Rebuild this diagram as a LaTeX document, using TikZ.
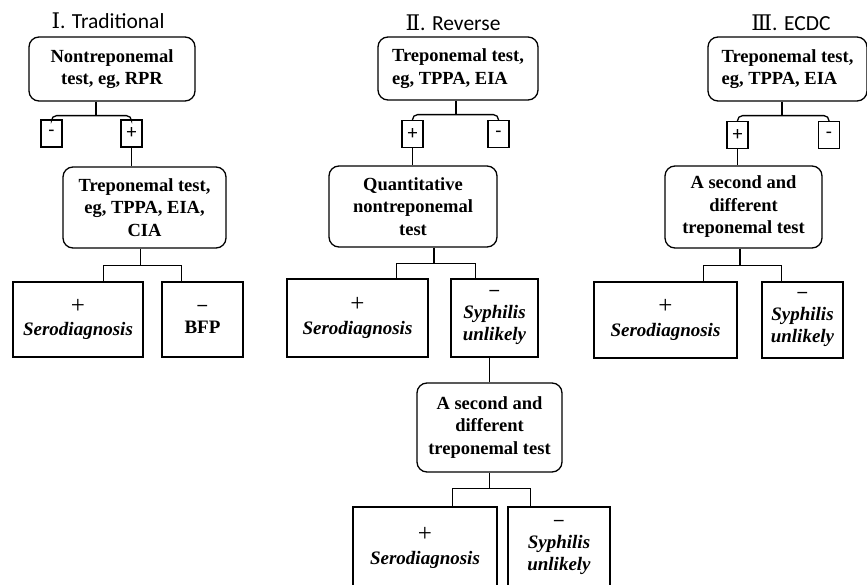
\documentclass[tikz,border=0pt]{standalone}
\usepackage{fontspec}
\setmainfont{Liberation Serif}
\newfontfamily\titlefont{Carlito}
\newfontfamily\romfont{DejaVu Serif}
\newcommand{\bigplus}{{\fontsize{25}{22.5}\selectfont+}}

\begin{document}
\begin{tikzpicture}[x=1pt, y=-1pt, line width=1.3pt,
    title/.style={font=\titlefont\fontsize{21.5}{25}\selectfont},
    test/.style={draw, rounded corners=10pt, align=center, inner sep=0pt, font=\bfseries\fontsize{18.5}{22.5}\selectfont},
    sign/.style={draw, minimum width=21pt, minimum height=27pt, inner sep=0pt, font=\titlefont\fontsize{20}{20}\selectfont},
    result/.style={draw, align=center, inner sep=0pt, font=\fontsize{19}{22.5}\selectfont}
  ]
  \useasboundingbox (0,0) rectangle (867,585);
  \clip (0,0) rectangle (867,585);

  % I. Traditional
  \node[title] (head1) at (108,21) {{\romfont Ⅰ}. Traditional};
  \node[test, minimum width=166pt, minimum height=64pt] (non1) at (112,69) {Nontreponemal\\test, eg, RPR};
  \node[sign] (minus1) at (51.5,133.5) {-};
  \node[sign] (plus1) at (131.5,133.5) {+};
  \node[test, minimum width=163pt, minimum height=81pt] (tre1) at (144.5,207.5) {Treponemal test,\\eg, TPPA, EIA,\\CIA};
  \node[result, minimum width=130pt, minimum height=75pt] (sero1) at (78,319.5) {\bigplus\\\textbf{\textit{Serodiagnosis}}};
  \node[result, minimum width=81pt, minimum height=75pt] (bfp1) at (202.5,319.5) {\textbf{--}\\\textbf{BFP}};

  \draw ([xshift=-16pt]non1.south) -- ++(0,14);
  \draw[rounded corners=5pt] (minus1.north) |- ([xshift=-16pt,yshift=-14pt]non1.south) -| (plus1.north);
  \draw (plus1.south) -- (plus1.south |- tre1.north);
  \draw ([xshift=-4pt]tre1.south) -- ++(0,17);
  \draw ([xshift=-40pt]sero1.north east) |- ([xshift=-4pt,yshift=-17pt]tre1.south) -| ([xshift=20pt]bfp1.north west);

  % II. Reverse
  \node[title] (head2) at (453,23) {{\romfont Ⅱ}. Reverse};
  \node[test, align=left, minimum width=160pt, minimum height=63pt] (top2) at (458,68.5) {Treponemal test,\\eg, TPPA, EIA};
  \node[sign] (plus2) at (412.5,134) {+};
  \node[sign] (minus2) at (498.5,134) {-};
  \node[test, minimum width=168pt, minimum height=81pt] (quan2) at (413,206.5) {Quantitative\\nontreponemal\\test};
  \node[result, minimum width=141pt, minimum height=78pt] (sero2) at (357.5,318) {\bigplus\\\textbf{\textit{Serodiagnosis}}};
  \node[result, minimum width=87pt, minimum height=78pt] (syph2) at (494.5,318) {\textbf{--}\\\textbf{\textit{Syphilis}}\\\textbf{\textit{unlikely}}};
  \node[test, minimum width=145pt, minimum height=89pt] (sec2) at (489.5,427.5) {A second and\\different\\treponemal test};
  \node[result, minimum width=144pt, minimum height=82pt] (sero2b) at (425,548) {\bigplus\\\textbf{\textit{Serodiagnosis}}};
  \node[result, minimum width=102pt, minimum height=82pt] (syph2b) at (559,548) {\textbf{--}\\\textbf{\textit{Syphilis}}\\\textbf{\textit{unlikely}}};

  \draw ([xshift=-2pt]top2.south) -- ++(0,14);
  \draw[rounded corners=5pt] (plus2.north) |- ([xshift=-2pt,yshift=-14pt]top2.south) -| (minus2.north);
  \draw (plus2.south) -- (plus2.south |- quan2.north);
  \draw ([xshift=21pt]quan2.south) -- ++(0,16);
  \draw ([xshift=-32pt]sero2.north east) |- ([xshift=21pt,yshift=-16pt]quan2.south) -| ([xshift=25pt]syph2.north west);
  \draw (sec2.north |- syph2.south) -- (sec2.north);
  \draw (sec2.south) -- ++(0,16);
  \draw ([xshift=-45pt]sero2b.north east) |- ([yshift=-16pt]sec2.south) -| ([xshift=23pt]syph2b.north west);

  % III. ECDC
  \node[title] (head3) at (791,23) {{\romfont Ⅲ}. ECDC};
  \node[test, align=left, minimum width=159pt, minimum height=64pt] (top3) at (787.5,69) {Treponemal test,\\eg, TPPA, EIA};
  \node[sign] (plus3) at (737.5,135) {+};
  \node[sign] (minus3) at (829,135) {-};
  \node[test, minimum width=157pt, minimum height=82pt] (sec3) at (743.5,207) {A second and\\different\\treponemal test};
  \node[result, minimum width=143pt, minimum height=76pt] (sero3) at (665.5,320) {\bigplus\\\textbf{\textit{Serodiagnosis}}};
  \node[result, minimum width=81pt, minimum height=76pt] (syph3) at (802.5,320) {\textbf{--}\\\textbf{\textit{Syphilis}}\\\textbf{\textit{unlikely}}};

  \draw ([xshift=-5.5pt]top3.south) -- ++(0,14);
  \draw[rounded corners=5pt] (plus3.north) |- ([xshift=-5.5pt,yshift=-14pt]top3.south) -| (minus3.north);
  \draw (plus3.south) -- (plus3.south |- sec3.north);
  \draw ([xshift=-3.5pt]sec3.south) -- ++(0,17);
  \draw ([xshift=-34pt]sero3.north east) |- ([xshift=-3.5pt,yshift=-17pt]sec3.south) -| ([xshift=20pt]syph3.north west);
\end{tikzpicture}
\end{document}
